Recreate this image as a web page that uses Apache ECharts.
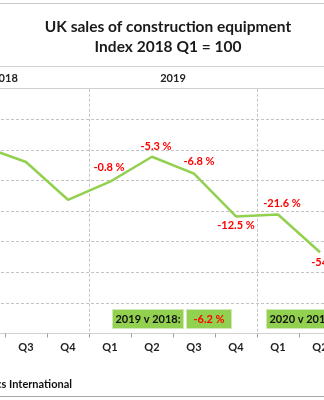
<!DOCTYPE html>
<html>
<head>
<meta charset="utf-8">
<script src="https://cdn.jsdelivr.net/npm/echarts@6/dist/echarts.min.js"></script>
<style>
html,body{margin:0;padding:0;background:#fff;}
#c{width:324px;height:400px;}
</style>
</head>
<body>
<div id="c"></div>
<script>
// ---- data ----
const quarters = ['Q1','Q2','Q3','Q4','Q1','Q2','Q3','Q4','Q1','Q2','Q3','Q4'];
const years = ['2018','2019','2020'];
const salesIndex = [100, 122.0, 112.1, 87.4, 99.2, 115.5, 104.5, 76.5, 77.8, 53.1, null, null];
const yoyChange = [null, null, null, null, -0.8, -5.3, -6.8, -12.5, -21.6, -54.0, null, null];
const annualLabels = ['2019 v 2018:', '2020 v 2019:'];
const annualChange = [-6.2];
const yMin = 0, yMax = 160, yStep = 20;

// ---- label placement (style): shift of label centre from its point, px ----
const labelShift = {
  4: [-1, -14],
  5: [4, -10],
  6: [5, -12],
  7: [0, 9],
  8: [4, -11],
  9: [10, 10]
};

const FONT = 'Lato, "Open Sans", sans-serif';
const SYM = 2;
const chart = echarts.init(document.getElementById('c'), null, {renderer:'canvas'});

const lineData = salesIndex.map((v, i) => {
  const item = {value: v};
  if (yoyChange[i] !== null && labelShift[i]) {
    item.label = {
      show: true,
      formatter: yoyChange[i].toFixed(1) + ' %',
      color: '#ff0000',
      fontWeight: 'bold',
      fontSize: 11,
      fontFamily: FONT,
      position: [SYM / 2 + labelShift[i][0], SYM / 2 + labelShift[i][1]],
      align: 'center',
      verticalAlign: 'middle'
    };
  }
  return item;
});

const boxStyle = {fill:'#92d050', stroke:'#cfe8b4', lineWidth:1};
const boxText = (t, color) => ({
  type:'text', style:{text:t, fill:color, font:'bold 11px ' + FONT, textAlign:'center', textVerticalAlign:'middle'}
});

const option = {
  animation: false,
  backgroundColor: '#fff',
  title: {
    text: 'UK sales of construction equipment\nIndex 2018 Q1 = 100',
    left: 163,
    top: 12,
    textAlign: 'center',
    textStyle: {fontFamily: FONT, fontWeight: 'bold', fontSize: 15.5, color: '#1a1a1a', lineHeight: 20, align: 'center'}
  },
  grid: {left: -79, width: 504, top: 88.7, bottom: 66.5, containLabel: false, outerBoundsMode: 'none'},
  xAxis: [
    {
      type: 'category',
      data: quarters,
      boundaryGap: true,
      axisLine: {show: true, lineStyle: {color: '#d0d0d0', width: 1}},
      axisTick: {show: true, length: 4, lineStyle: {color: '#a0a0a0'}},
      axisLabel: {color: '#222', fontWeight: 'bold', fontSize: 11, fontFamily: FONT, margin: 8},
      splitLine: {show: false}
    },
    {
      type: 'category',
      data: years,
      position: 'top',
      boundaryGap: true,
      axisLine: {show: true, lineStyle: {color: '#d0d0d0', width: 1}},
      axisTick: {show: false},
      axisLabel: {color: '#222', fontWeight: 'bold', fontSize: 11, fontFamily: FONT, margin: 5},
      splitLine: {show: true, interval: 0, lineStyle: {color: '#c4c4c4', type: [3, 2], width: 1}}
    }
  ],
  yAxis: {
    type: 'value',
    min: yMin, max: yMax, interval: yStep,
    axisLine: {show: false},
    axisTick: {show: false},
    axisLabel: {show: false},
    splitLine: {show: true, lineStyle: {color: '#c4c4c4', type: [3, 2], width: 1}}
  },
  series: [{
    type: 'line',
    xAxisIndex: 0,
    data: lineData,
    symbol: 'circle',
    symbolSize: SYM,
    showSymbol: true,
    showAllSymbol: true,
    itemStyle: {color: 'rgba(146,208,80,0)', borderWidth: 0},
    label: {show: false},
    labelLayout: {hideOverlap: false},
    connectNulls: false,
    lineStyle: {color: '#92d050', width: 2.5},
    z: 5
  }],
  graphic: [
    {type:'line', shape:{x1:0, y1:3.5, x2:324, y2:3.5}, style:{stroke:'#c8c8c8', lineWidth:1}},
    {type:'line', shape:{x1:0, y1:66.5, x2:324, y2:66.5}, style:{stroke:'#d0d0d0', lineWidth:1}},
    {type:'line', shape:{x1:0, y1:396.5, x2:324, y2:396.5}, style:{stroke:'#a8a8a8', lineWidth:1}},
    {type:'group', left:112, top:309, children:[
      {type:'rect', shape:{x:0, y:0, width:71, height:19}, style:boxStyle},
      Object.assign(boxText(annualLabels[0], '#111'), {x:35.5, y:9.5})
    ]},
    {type:'group', left:186, top:309, children:[
      {type:'rect', shape:{x:0, y:0, width:45, height:19}, style:boxStyle},
      Object.assign(boxText(annualChange[0].toFixed(1) + ' %', '#ff0000'), {x:22.5, y:9.5})
    ]},
    {type:'group', left:266, top:309, children:[
      {type:'rect', shape:{x:0, y:0, width:71, height:19}, style:boxStyle},
      Object.assign(boxText(annualLabels[1], '#111'), {x:35.5, y:9.5})
    ]},
    {type:'text', x: 72, y: 384, style:{text:'Source: Systematics International', fill:'#111', font:'bold 11px ' + FONT, textAlign:'right', textVerticalAlign:'middle'}}
  ]
};
chart.setOption(option);
</script>
</body>
</html>
